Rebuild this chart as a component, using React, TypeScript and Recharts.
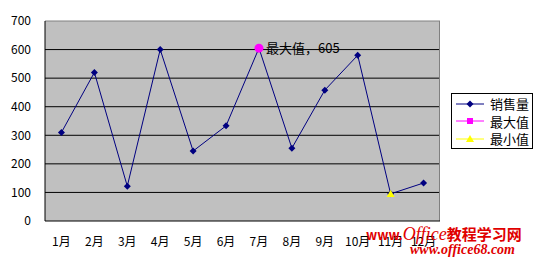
import { LineChart, Line, XAxis, YAxis, CartesianGrid, ReferenceLine, LabelList } from 'recharts';

const months = ['1月', '2月', '3月', '4月', '5月', '6月', '7月', '8月', '9月', '10月', '11月', '12月'];
const sales = [310, 520, 122, 600, 245, 333, 605, 255, 458, 580, 95, 133];
const maxValues = [null, null, null, null, null, null, 605, null, null, null, null, null];
const minValues = [null, null, null, null, null, null, null, null, null, null, 95, null];
const yTicks = [0, 100, 200, 300, 400, 500, 600, 700];
const gridValues = [100, 200, 300, 400, 500, 600];
// category boundaries, where Excel puts its tick marks
const boundaries = months.slice(1).map((_, i) => i + 1);

const data = months.map((m, i) => ({
  month: m,
  sales: sales[i],
  max: maxValues[i],
  min: minValues[i],
}));

const FONT = '"Noto Sans CJK SC", "Noto Sans", sans-serif';
const NAVY = '#000080';
const MAGENTA = '#FF00FF';
const YELLOW = '#FFFF00';
const BORDER = '#808080';
const PLOT_BG = '#C0C0C0';

// plot box: x 45..440, y 21..221
const W = 538, H = 261;
const X_H = 40;
const M = { top: 21, right: 98, bottom: 0, left: 0 };
const Y_W = 45;
const PLOT_W = W - M.right - Y_W;
const PLOT_H = H - X_H - M.top;
const BAND = PLOT_W / months.length;

function Diamond({ cx, cy, fill }: any) {
  if (cx == null || cy == null) return null;
  const s = 3.5;
  return <path d={`M${cx},${cy - s}L${cx + s},${cy}L${cx},${cy + s}L${cx - s},${cy}Z`} fill={fill} />;
}

function Circle({ cx, cy, value }: any) {
  if (cx == null || cy == null || value == null) return null;
  return <circle cx={cx} cy={cy} r={4.5} fill={MAGENTA} />;
}

function Triangle({ cx, cy, value }: any) {
  if (cx == null || cy == null || value == null) return null;
  const s = 4;
  return <path d={`M${cx},${cy - s}L${cx + s},${cy + s * 0.8}L${cx - s},${cy + s * 0.8}Z`} fill={YELLOW} />;
}

function MaxLabel({ x, y, value }: any) {
  if (value == null) return null;
  return (
    <text x={x + 7} y={y + 5} fontSize={13} fill="#000" fontFamily={FONT}>
      {`最大值，${value}`}
    </text>
  );
}

const legendItems = [
  { name: '销售量', color: NAVY, marker: 'diamond' },
  { name: '最大值', color: MAGENTA, marker: 'square' },
  { name: '最小值', color: YELLOW, marker: 'triangle' },
];

function LegendBox() {
  return (
    <div
      style={{
        position: 'absolute', left: 451, top: 93, width: 82, height: 56,
        border: '1px solid #000', background: '#fff', fontFamily: FONT,
        padding: '1px 0', boxSizing: 'border-box',
      }}
    >
      {legendItems.map((it) => (
        <div key={it.name} style={{ display: 'flex', alignItems: 'center', height: 17.5 }}>
          <svg width={36} height={12} style={{ marginLeft: 2 }}>
            <line x1={2} y1={6} x2={30} y2={6} stroke={it.color} strokeWidth={1} />
            {it.marker === 'diamond' && <path d="M16,2.5L19.5,6L16,9.5L12.5,6Z" fill={it.color} />}
            {it.marker === 'square' && <rect x={13} y={3} width={6} height={6} fill={it.color} />}
            {it.marker === 'triangle' && <path d="M16,2L20,9L12,9Z" fill={it.color} />}
          </svg>
          <span style={{ fontSize: 13, lineHeight: '15px', color: '#000' }}>{it.name}</span>
        </div>
      ))}
    </div>
  );
}

export default function App() {
  return (
    <div style={{ position: 'absolute', left: 0, top: 0, width: W, height: H, background: '#fff' }}>
      {/* plot background sits behind the svg so the inward tick marks stay visible */}
      <div style={{ position: 'absolute', left: Y_W, top: M.top, width: PLOT_W, height: PLOT_H, background: PLOT_BG }} />
      <div style={{ position: 'absolute', left: 0, top: 0 }}>
        <LineChart width={W} height={H} data={data} margin={M}>
          <CartesianGrid vertical={false} stroke="#000" horizontalValues={gridValues} />
          <CartesianGrid horizontal={false} verticalPoints={[W - M.right - 0.5]} stroke={BORDER} />
          <ReferenceLine y={700} stroke={BORDER} />
          <XAxis
            xAxisId="marks"
            type="number"
            domain={[0, months.length]}
            ticks={boundaries}
            tick={false}
            axisLine={false}
            tickLine={{ stroke: '#000' }}
            tickSize={5}
            mirror
            height={0}
          />
          <XAxis
            dataKey="month"
            tickLine={false}
            axisLine={{ stroke: '#000' }}
            tick={{ fontSize: 12, fill: '#000', fontFamily: FONT }}
            tickMargin={10}
            interval={0}
            height={X_H}
            padding={{ left: BAND / 2, right: BAND / 2 }}
          />
          <YAxis
            domain={[0, 700]}
            ticks={yTicks}
            width={Y_W}
            tickLine={false}
            axisLine={{ stroke: '#000' }}
            tick={{ fontSize: 12, fill: '#000', fontFamily: FONT }}
            tickMargin={8}
          />
          <Line
            dataKey="sales"
            stroke={NAVY}
            strokeWidth={1}
            dot={<Diamond fill={NAVY} />}
            activeDot={false}
            isAnimationActive={false}
          />
          <Line
            dataKey="max"
            stroke={MAGENTA}
            dot={<Circle />}
            activeDot={false}
            isAnimationActive={false}
          >
            <LabelList dataKey="max" content={<MaxLabel />} />
          </Line>
          <Line
            dataKey="min"
            stroke={YELLOW}
            dot={<Triangle />}
            activeDot={false}
            isAnimationActive={false}
          />
        </LineChart>
      </div>
      <LegendBox />
      <div
        style={{
          position: 'absolute', left: 366, top: 226, color: '#e00000',
          fontFamily: FONT, fontWeight: 'bold', fontSize: 15, lineHeight: '16px', whiteSpace: 'nowrap',
        }}
      >
        <span style={{ fontSize: 13 }}>www.</span>
        <span style={{ fontStyle: 'italic', fontFamily: '"Liberation Serif", serif', fontWeight: 'normal', fontSize: 18 }}>Office</span>
        <span>教程学习网</span>
      </div>
      <div
        style={{
          position: 'absolute', left: 410, top: 243, color: '#e00000',
          fontFamily: '"Liberation Serif", serif', fontStyle: 'italic', fontWeight: 'bold',
          fontSize: 14, lineHeight: '14px', whiteSpace: 'nowrap',
        }}
      >
        www.office68.com
      </div>
    </div>
  );
}
